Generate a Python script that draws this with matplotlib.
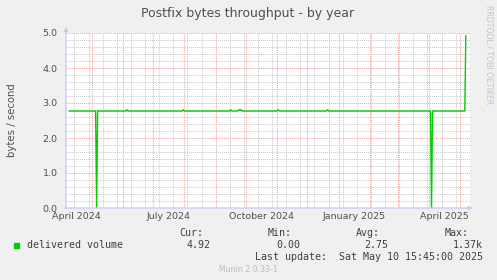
#munin style yearly graph: postfix bytes throughput

import numpy as np
import pandas as pd
import matplotlib
matplotlib.use("Agg")
from matplotlib import pyplot as plt
import matplotlib.dates as mdates

W, H = 497, 280

#graph window (munin: last 400 days)
t_start = pd.Timestamp("2024-04-05 15:45")
t_end = pd.Timestamp("2025-05-10 15:45")

#breakpoints of the daily series (bytes/second)
dates = ["2024-04-09", "2024-05-05", "2024-05-06", "2024-05-07",
         "2024-06-04", "2024-06-05", "2024-06-06",
         "2024-07-30", "2024-07-31", "2024-08-01",
         "2024-09-15", "2024-09-16", "2024-09-17",
         "2024-09-23", "2024-09-24", "2024-09-25", "2024-09-26", "2024-09-27",
         "2024-11-01", "2024-11-02", "2024-11-03",
         "2024-12-20", "2024-12-21", "2024-12-22",
         "2025-04-02", "2025-04-03", "2025-04-04",
         "2025-05-06", "2025-05-07"]
volume = [2.77, 2.77, 0.00, 2.77,
          2.77, 2.81, 2.77,
          2.77, 2.81, 2.77,
          2.77, 2.81, 2.77,
          2.77, 2.81, 2.78, 2.81, 2.77,
          2.77, 2.81, 2.77,
          2.77, 2.81, 2.77,
          2.77, 0.00, 2.77,
          2.77, 4.92]

x_labels = ["April 2024", "July 2024", "October 2024", "January 2025", "April 2025"]
x_label_dates = ["2024-04-16", "2024-07-16", "2024-10-16", "2025-01-16", "2025-04-16"]
y_ticks = [0, 1, 2, 3, 4, 5]

series_name = "delivered volume"
stats = {"Cur:": "4.92", "Min:": "0.00", "Avg:": "2.75", "Max:": "1.37k"}
last_update = "Last update:  Sat May 10 15:45:00 2025"

bg = "#f0f0f0"
green = "#00cc00"
axis_col = "#c8c8f0"
txt = "#505050"

fig = plt.figure(figsize=(W / 100, H / 100), dpi=100, facecolor=bg)
ax = fig.add_axes([66 / W, (H - 208) / H, 403.5 / W, 175 / H])
ax.set_facecolor("white")

x = pd.to_datetime(dates)
ax.plot(x, volume, color=green, lw=1.0, zorder=3)

ax.set_xlim(t_start, t_end)
ax.set_ylim(0, 5)

#grid: red at month starts / whole units, gray every two weeks / 0.2
month_starts = pd.date_range("2024-05-01", "2025-05-01", freq="MS")
two_weeks = pd.date_range("2024-04-14", "2025-05-10", freq="14D")
ax.set_xticks(month_starts)
ax.set_xticks(two_weeks, minor=True)
ax.set_yticks(y_ticks, labels=[f"{v:.1f}" for v in y_ticks])
ax.set_yticks(np.arange(0, 5.01, 0.2), minor=True)
ax.grid(which="minor", color="#c8c8c8", linestyle=(0, (1, 1)), lw=0.7)
ax.grid(which="major", color="#f0a0a0", linestyle=(0, (1, 1)), lw=0.7)
ax.set_axisbelow(True)
ax.tick_params(which="both", length=0)
ax.tick_params(axis="x", labelbottom=False)
ax.tick_params(axis="y", pad=6, labelsize=6.8, labelcolor=txt)

for s in ax.spines.values():
    s.set_visible(False)

#axis lines with arrows
ax.annotate("", xy=(0, 1.035), xytext=(0, -0.003), xycoords="axes fraction",
            arrowprops=dict(arrowstyle="-|>", color=axis_col, lw=0.9,
                            mutation_scale=6, shrinkA=0, shrinkB=0))
ax.annotate("", xy=(1.008, 0), xytext=(-0.003, 0), xycoords="axes fraction",
            arrowprops=dict(arrowstyle="-|>", color=axis_col, lw=0.9,
                            mutation_scale=6, shrinkA=0, shrinkB=0))

#month labels sit mid-month like rrdtool does
trans = ax.get_xaxis_transform()
for d, lab in zip(pd.to_datetime(x_label_dates), x_labels):
    ax.text(d, -0.046, lab, transform=trans, ha="center", va="center",
            fontsize=6.8, color=txt)

ax.set_ylabel("bytes / second", fontsize=7.3, color=txt, labelpad=2)
ax.yaxis.set_label_coords(-49 / 403.5, 0.5)

def ftext(px, py, s, **kw):
    fig.text(px / W, 1 - py / H, s, **kw)

ftext(248, 13, "Postfix bytes throughput - by year", ha="center", va="center",
      fontsize=9, color=txt)
ftext(488.5, 5, "RRDTOOL / TOBI OETIKER", ha="center", va="top", rotation=270,
      fontsize=5.6, color="#c4c4c4")

#legend
mono = dict(family="DejaVu Sans Mono", fontsize=7.2, color="#404040", va="center")
fig.patches.append(plt.Rectangle((14 / W, 1 - 247.5 / H), 5 / W, 5 / H,
                                 transform=fig.transFigure, color=green))
ftext(27, 245, series_name, ha="left", **mono)
for (head, val), xr in zip(stats.items(), [203, 292, 380, 469]):
    ftext(xr, 233, head, ha="right", **mono)
for (head, val), xr in zip(stats.items(), [211, 300, 388, 483]):
    ftext(xr, 245, val, ha="right", **mono)
ftext(483, 257.5, last_update, ha="right", **mono)
ftext(248, 269.5, "Munin 2.0.33-1", ha="center", va="center", fontsize=5.6,
      color="#bbbbbb")

fig.savefig("out.png", dpi=100, facecolor=bg)
